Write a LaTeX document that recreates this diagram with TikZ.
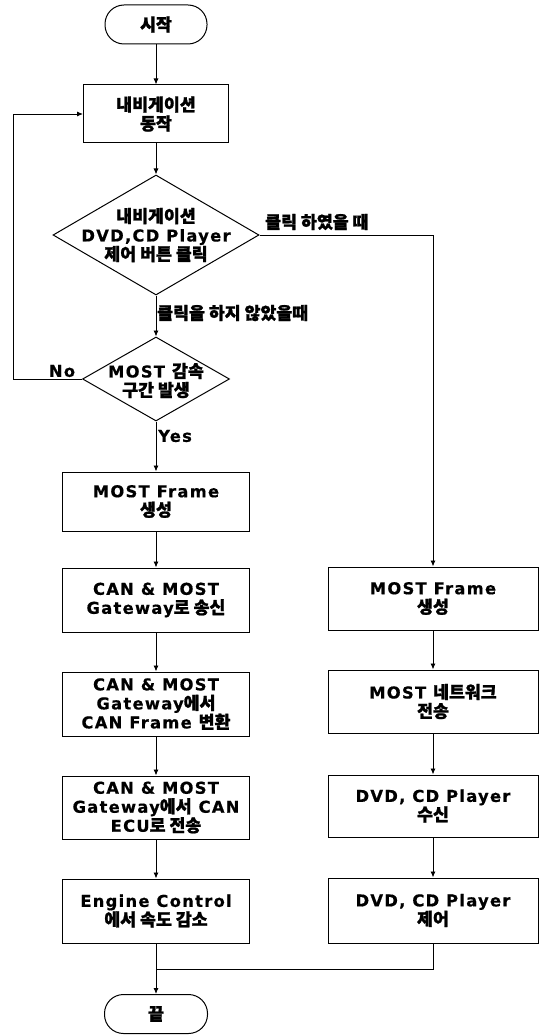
\documentclass[tikz,border=0pt]{standalone}
\usepackage{fontspec}
\setmainfont{DejaVu Sans}[LetterSpace=8, BoldFeatures={FakeBold=0.6}]
\newfontfamily\ko{Noto Sans CJK KR}[Scale=1.06, BoldFeatures={FakeBold=1.3}]
\usetikzlibrary{arrows.meta,shapes.geometric}
\begin{document}
\begin{tikzpicture}[x=1pt,y=-1pt,
 every node/.style={font=\bfseries\fontsize{16.3}{19}\selectfont},
 proc/.style={draw, line width=1pt, align=center, inner sep=0pt, minimum width=187pt, minimum height=64pt},
 term/.style={draw, line width=1pt, rounded corners=19pt, minimum width=102pt, minimum height=39pt, inner sep=0pt},
 dec/.style={draw, diamond, line width=1pt, inner sep=0pt},
 txt/.style={align=center, inner sep=0pt},
 flow/.style={line width=0.9pt, -{Latex[length=6pt,width=5pt]}},
 plain/.style={line width=0.9pt}]
\useasboundingbox (0,0) rectangle (541,1035);
% left column
\node[term] (start) at (156,24.5) {\ko 시작};
\node[proc, minimum width=145pt, minimum height=58pt] (nav) at (156,114) {{\ko 내비게이션}\\{\ko 동작}};
\node[dec, minimum width=206pt, minimum height=120pt] (d1) at (156,235) {};
\node[txt] (d1t) at (156,235) {{\ko 내비게이션}\\DVD,CD Player\\{\ko 제어 버튼 클릭}};
\node[dec, minimum width=147pt, minimum height=84pt] (d2) at (156,379) {};
\node[txt] (d2t) at (156,380.5) {MOST {\ko 감속}\\{\ko 구간 발생}};
\node[proc, minimum height=59pt] (L1) at (156,501.5) {MOST Frame\\{\ko 생성}};
\node[proc] (L2) at (156,600) {CAN \& MOST\\Gateway{\ko 로 송신}};
\node[proc] (L3) at (156,704) {CAN \& MOST\\Gateway{\ko 에서}\\CAN Frame {\ko 변환}};
\node[proc, minimum height=63pt] (L4) at (156,807.5) {CAN \& MOST\\Gateway{\ko 에서} CAN\\ECU{\ko 로 전송}};
\node[proc] (L5) at (156,911) {Engine Control\\{\ko 에서 속도 감소}};
\node[term, minimum width=103pt] (end) at (156,1014) {\ko 끝};
% right column
\node[proc, minimum width=210pt, minimum height=63pt] (R1) at (433,598.5) {MOST Frame\\{\ko 생성}};
\node[proc, minimum width=210pt, minimum height=63pt] (R2) at (433,701.5) {MOST {\ko 네트워크}\\{\ko 전송}};
\node[proc, minimum width=210pt, minimum height=62pt] (R3) at (433,806) {DVD, CD Player\\{\ko 수신}};
\node[proc, minimum width=210pt, minimum height=65pt] (R4) at (433,910.5) {DVD, CD Player\\{\ko 제어}};
% labels
\node[txt, anchor=west] (lclick) at (265,222) {\ko 클릭 하였을 때};
\node[txt, anchor=west] (lnoclick) at (157,313) {\ko 클릭을 하지 않았을때};
\node[txt] (lno) at (62,371) {No};
\node[txt, anchor=west] (lyes) at (158,436) {Yes};
% connectors
\coordinate (lp) at (13,0);
\coordinate (m) at (156,969);
\draw[flow] (start) -- (nav);
\draw[flow] (nav) -- (d1);
\draw[flow] (d1) -- (d2);
\draw[flow] (d2) -- (L1);
\draw[flow] (L1) -- (L2);
\draw[flow] (L2) -- (L3);
\draw[flow] (L3) -- (L4);
\draw[flow] (L4) -- (L5);
\draw[flow] (L5) -- (end);
\draw[flow] (d1.east) -| (R1.north);
\draw[flow] (R1) -- (R2);
\draw[flow] (R2) -- (R3);
\draw[flow] (R3) -- (R4);
\draw[flow] (d2.west) -- (d2.west -| lp) |- (nav.west);
\draw[plain] (R4.south) |- (m);
\end{tikzpicture}
\end{document}
